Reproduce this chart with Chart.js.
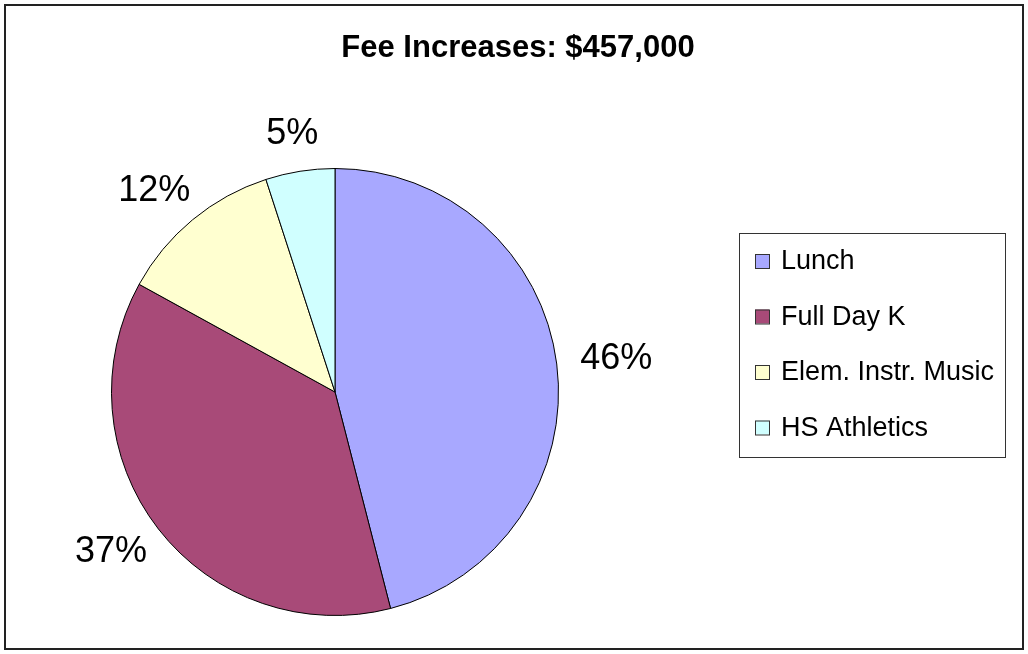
<!DOCTYPE html>
<html lang="en">
<head>
    <meta charset="UTF-8">
    <title>Fee Increases</title>
    <script src="https://cdn.jsdelivr.net/npm/chart.js"></script>
    <style>
        body {
            margin: 0;
            background: #fff;
        }
        canvas {
            display: block;
        }
    </style>
</head>
<body>

<canvas id="feeChart" width="1028" height="654"></canvas>

<script>
    // Chart data
    const chartTitle = 'Fee Increases: $457,000';
    const categories = ['Lunch', 'Full Day K', 'Elem. Instr. Music', 'HS Athletics'];
    const shares = [46, 37, 12, 5];
    const sliceColors = ['#a8a8ff', '#a84a78', '#ffffd0', '#d0ffff'];

    const FONT = '"Liberation Sans", Arial, sans-serif';

    // Frame, title, legend box and percent labels, drawn after the pie
    const decorations = {
        id: 'decorations',
        afterDraw(chart) {
            const ctx = chart.ctx;
            ctx.save();

            // outer frame
            ctx.strokeStyle = '#222';
            ctx.lineWidth = 2;
            ctx.strokeRect(5, 5, 1018, 644);

            // title
            ctx.fillStyle = '#000';
            ctx.font = 'bold 31px ' + FONT;
            ctx.textAlign = 'center';
            ctx.textBaseline = 'alphabetic';
            ctx.fillText(chartTitle, 518, 57);

            // percent labels just outside each slice
            const meta = chart.getDatasetMeta(0);
            const total = shares.reduce((a, b) => a + b, 0);
            ctx.font = '36px ' + FONT;
            ctx.textAlign = 'center';
            ctx.textBaseline = 'middle';
            meta.data.forEach((arc, i) => {
                const p = arc.getProps(['x', 'y', 'startAngle', 'endAngle', 'outerRadius'], true);
                const mid = (p.startAngle + p.endAngle) / 2;
                const dx = Math.cos(mid), dy = Math.sin(mid);
                const text = Math.round(shares[i] / total * 100) + '%';
                const w = ctx.measureText(text).width;
                const h = 27;
                const r = p.outerRadius + 24;
                ctx.fillText(text, p.x + dx * r + dx * w / 2, p.y + dy * r + dy * h / 2);
            });

            // legend box
            ctx.strokeStyle = '#333';
            ctx.lineWidth = 1;
            ctx.strokeRect(739.5, 233.5, 266, 224);
            ctx.font = '27px ' + FONT;
            ctx.textAlign = 'left';
            ctx.textBaseline = 'middle';
            categories.forEach((name, i) => {
                const cy = 261 + i * 55.5;
                ctx.fillStyle = sliceColors[i];
                ctx.fillRect(755, cy - 7, 14, 14);
                ctx.strokeStyle = '#333';
                ctx.strokeRect(755.5, cy - 6.5, 14, 14);
                ctx.fillStyle = '#000';
                ctx.fillText(name, 781, cy + 1);
            });

            ctx.restore();
        }
    };

    const ctx = document.getElementById('feeChart').getContext('2d');
    new Chart(ctx, {
        type: 'pie',
        data: {
            labels: categories,
            datasets: [{
                data: shares,
                backgroundColor: sliceColors,
                borderColor: '#000',
                borderWidth: 1
            }]
        },
        options: {
            responsive: false,
            animation: false,
            layout: {
                padding: { left: 111, right: 469, top: 168, bottom: 38 }
            },
            plugins: {
                legend: { display: false },
                title: { display: false },
                tooltip: { enabled: false }
            }
        },
        plugins: [decorations]
    });
</script>

</body>
</html>
